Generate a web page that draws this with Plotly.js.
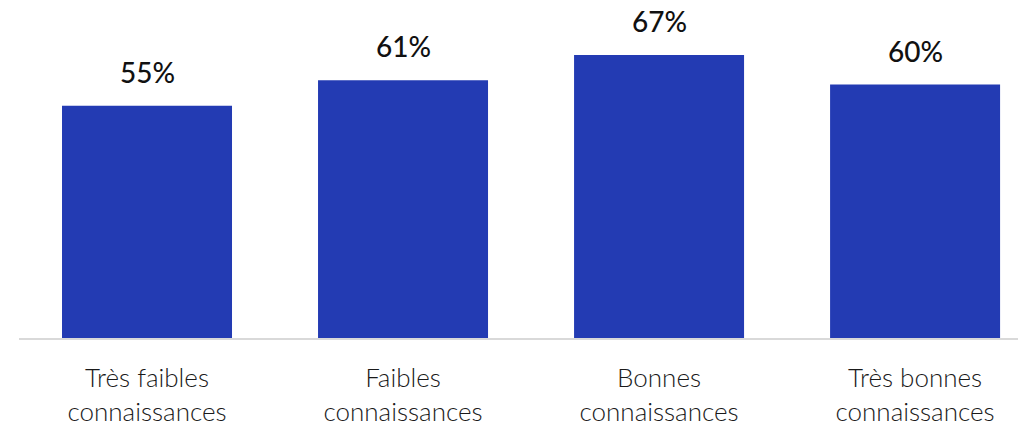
<!DOCTYPE html>
<html><head><meta charset="utf-8">
<script src="https://cdn.plot.ly/plotly-3.0.1.min.js"></script>
<style>body{margin:0;background:#fff}#chart{width:1018px;height:428px}</style>
</head><body><div id="chart"></div>
<script>
const categories = ["Très faibles<br>connaissances", "Faibles<br>connaissances", "Bonnes<br>connaissances", "Très bonnes<br>connaissances"];
const values = [55, 61, 67, 60];
const valueLabels = ["55%", "61%", "67%", "60%"];
const xpos = categories.map((c, i) => i);

Plotly.newPlot('chart', [{
  type: 'bar',
  x: xpos,
  y: values,
  width: 0.664,
  marker: {color: '#233BB3'},
  cliponaxis: false,
  hoverinfo: 'none'
}], {
  width: 1018, height: 428,
  margin: {l: 19, r: 0, t: 0, b: 90},
  paper_bgcolor: '#fff', plot_bgcolor: '#fff',
  showlegend: false,
  xaxis: {
    range: [-0.5, 3.402],
    tickvals: xpos, ticktext: categories,
    showgrid: false, zeroline: false,
    showline: true, linecolor: '#d9d9d9', linewidth: 2,
    ticks: '', ticklen: 0,
    ticklabelstandoff: 16,
    tickfont: {family: 'Lato, sans-serif', size: 26, weight: 300, color: '#1a1a1a'}
  },
  yaxis: {range: [0, 80], visible: false, showgrid: false, zeroline: false},
  annotations: values.map((v, i) => ({
    x: xpos[i], y: v, text: valueLabels[i], showarrow: false,
    xanchor: 'center', yanchor: 'bottom', yshift: 15,
    font: {family: 'Lato, sans-serif', size: 28, weight: 500, color: '#111'}
  }))
}, {staticPlot: true});
</script></body></html>
